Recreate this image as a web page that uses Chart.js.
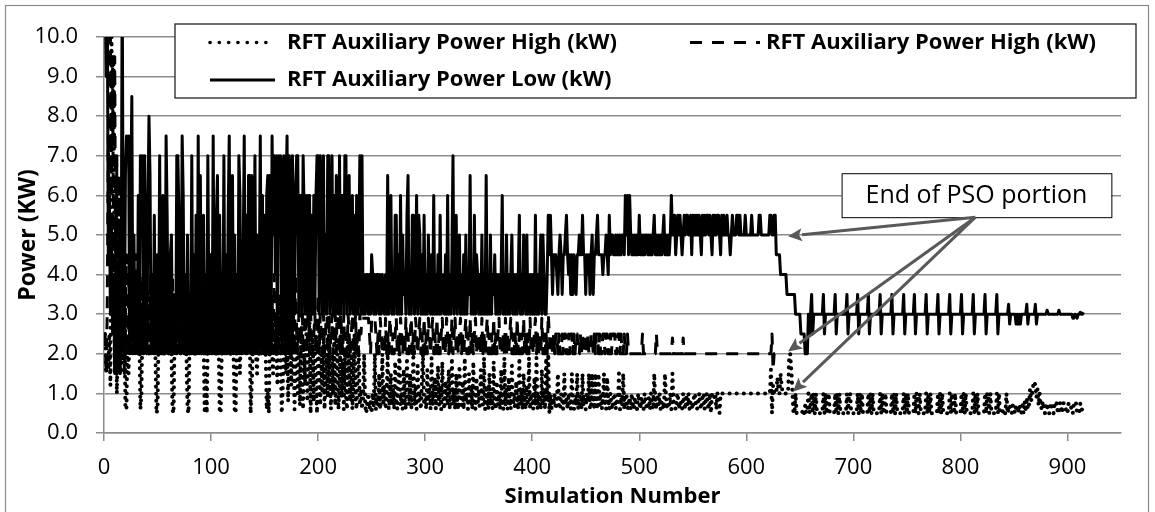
<!DOCTYPE html>
<html>
<head>
<meta charset="utf-8">
<script src="https://cdn.jsdelivr.net/npm/chart.js@4.4.1/dist/chart.umd.min.js"></script>
<style>
  html, body { margin: 0; padding: 0; background: #fff; }
  #wrap { position: relative; width: 1155px; height: 512px; }
</style>
</head>
<body>
<div id="wrap"><canvas id="powerChart" width="1155" height="512"></canvas></div>
<script>
const FONT = "'Open Sans', sans-serif";

// RFT auxiliary power, one value per simulation (kW)
const lowPower = [
  11.5, 9, 11.5, 4.5, 6, 3, 5.5, 2.5, 4, 1.5, 3.5, 1.5, 2, 5, 1.5,
  3, 11.5, 4, 2, 6.5, 7.5, 7, 7.5, 2, 6, 8.5, 2, 5, 2, 4,
  2, 6, 2, 7, 5, 7, 2, 7, 4.5, 2, 5.5, 8, 6.5, 2, 4,
  2, 5.5, 2, 3, 4.5, 2, 7, 2, 2, 6, 4, 2, 7.5, 5.5, 2,
  2, 4.5, 5, 2, 2, 3.5, 2, 7, 7, 5.5, 2, 2, 7.5, 6, 2,
  4, 2, 5, 2, 2, 2, 7, 2, 4.5, 2, 5.5, 2, 7.5, 2, 6.5,
  2, 4, 5.5, 2, 2, 2, 7, 3, 2, 4.5, 2, 7.5, 2, 2, 5.5,
  6.5, 2, 5.5, 3, 2, 2, 7, 2, 4.5, 2, 5.5, 7.5, 2, 2, 6.5,
  2, 5, 2, 4, 2, 7, 6, 2, 2, 4.5, 7.5, 2, 5.5, 2, 6.5,
  6.5, 2, 6.5, 2, 4, 7, 2, 5, 2, 3.5, 7.5, 2, 6, 2, 5.5,
  2, 6, 6.5, 2, 6.5, 2, 7.5, 5, 7, 4, 7, 2, 7, 6, 7,
  2, 6.5, 7, 2, 6, 7.5, 2, 7, 6.5, 2, 7, 5.5, 3, 6, 7,
  7, 3, 6, 6, 3, 7, 5.5, 3, 6, 3, 6, 6, 3, 5.5, 3,
  6, 3, 6, 7, 7, 3, 7, 6, 3, 7, 3, 5, 3, 7, 7,
  3, 4.5, 7, 3, 6, 3, 6.5, 5, 3, 7, 3, 6, 6, 3, 7,
  7, 3, 5, 6.5, 3, 4, 6, 3, 5.5, 3, 6, 3, 4.5, 7, 3,
  7, 3, 4, 3, 4, 4, 3, 4, 3, 4.5, 4, 3, 4, 3, 4,
  4, 3, 4, 3, 4, 3.5, 3, 4, 3, 6.5, 3, 4, 6, 3, 4,
  3, 5.5, 5.5, 3, 4.5, 3, 6, 3, 5, 3.5, 4, 3, 5.5, 6.5, 3,
  4, 3, 5.5, 5.5, 3, 4, 6, 3, 5.5, 5, 3, 4.5, 3, 5.5, 3,
  4, 3, 5, 3.5, 3, 4.5, 3, 6, 3, 4, 3, 4.5, 3, 5.5, 3,
  4, 3.5, 3, 4.5, 3, 6, 3, 4, 3, 4.5, 7, 3, 4, 5.5, 3,
  4.5, 5, 3, 4, 3, 4.5, 3, 5, 3, 4, 3.5, 6.5, 3, 4, 3,
  5.5, 3, 4.5, 4, 3, 4, 3, 5, 3, 4, 3, 6.5, 3, 4, 3,
  5, 3, 4, 3.5, 4.5, 3, 4, 3, 4, 3, 4, 6, 3, 4, 3,
  5, 3, 4, 3, 4, 5, 3, 4, 3, 4, 3, 4, 5.5, 3, 4,
  3, 5, 4, 3, 5, 3, 4, 3, 4, 3, 4, 3, 5.5, 3, 4,
  3, 4, 5, 3, 5, 4, 3, 3, 4, 5.5, 4.5, 5.5, 4.5, 3.5, 4.5,
  4.5, 4.5, 4, 3.5, 4.5, 5, 4.5, 3.5, 4.5, 4.5, 5, 5.5, 4.5, 4, 4.5,
  3.5, 4.5, 3.5, 4.5, 4, 3.5, 4.5, 4.5, 5, 4.5, 4.5, 5.5, 4.5, 4.5, 3.5,
  4.5, 4, 4.5, 3.5, 4.5, 5, 3.5, 4.5, 4.5, 5, 5.5, 4.5, 4.5, 4.5, 4.5,
  4, 4.5, 4.5, 5, 4.5, 4, 5.5, 4.5, 5, 5, 4.5, 4.5, 5, 4.5, 5,
  4.5, 5, 4.5, 5, 5, 4.5, 6, 5, 6, 4.5, 6, 5, 4.5, 5, 4.5,
  5, 4.5, 5, 4.5, 5.5, 4.5, 5, 4.5, 5, 4.5, 5, 5, 4.5, 5, 4.5,
  5, 4.5, 5, 5.5, 4.5, 5, 4.5, 5, 4.5, 5, 4.5, 5, 5.5, 4.5, 5,
  4.5, 5, 4.5, 5, 6, 5, 5, 5.5, 4.5, 5, 5.5, 5, 5.5, 5, 4.5,
  5, 5.5, 5, 5.5, 5.5, 5, 5, 5.5, 4.5, 5.5, 5, 5.5, 5, 5.5, 5,
  5.5, 5, 4.5, 5.5, 5, 5.5, 5, 5.5, 5.5, 5, 5.5, 5, 4.5, 5.5, 5,
  5.5, 5, 5.5, 5.5, 5, 4.5, 5.5, 5, 5.5, 5, 5, 5.5, 5, 5, 4.5,
  5, 5.5, 5, 5, 5, 5.5, 5.5, 5, 5.5, 5, 5, 5, 5, 5.5, 5,
  5, 5, 5, 5, 5.5, 5, 5, 5, 5, 5, 5, 5.5, 5.5, 5, 5,
  5, 5, 5, 5, 5, 5, 5.5, 5.5, 5, 5, 5.5, 5.5, 4.5, 4.5, 4.5,
  4.5, 4, 4, 4, 4, 4, 4, 3.5, 3.5, 3.5, 3.5, 3.5, 3.5, 3.5, 3.5,
  3, 3, 3, 3, 3, 2.5, 2.5, 2.5, 2.5, 2, 2, 2, 3, 2.5, 3,
  3.5, 2.5, 3, 3, 3, 3, 3, 3, 3, 3, 3, 3.5, 2.5, 3, 3,
  3, 3, 3, 3, 3, 3, 3, 3.5, 2.5, 3, 3, 3, 3, 3, 3,
  3, 3, 3, 3.5, 2.5, 3, 3, 3, 3, 3, 3, 3, 3, 3.5, 2.5,
  3, 3, 3, 3, 3, 3, 3, 3, 3.5, 2.5, 3, 3, 3, 3, 3,
  3, 3, 3, 3, 3.5, 2.5, 3, 3, 3, 3, 3, 3, 3, 3, 3,
  3.5, 2.5, 3, 3, 3, 3, 3, 3, 3, 3, 3, 3.5, 2.5, 3, 3,
  3, 3, 3, 3, 3, 3, 3.5, 2.5, 3, 3, 3, 3, 3, 3, 3,
  3, 3, 3.5, 2.5, 3, 3, 3, 3, 3, 3, 3, 3, 3, 3.5, 2.5,
  3, 3, 3, 3, 3, 3, 3, 3, 3, 3.5, 2.5, 3, 3, 3, 3,
  3, 3, 3, 3, 3, 3.5, 2.5, 3, 3, 3, 3, 3, 3, 3, 3,
  3, 3.5, 2.5, 3, 3, 3, 3, 3, 3, 3, 3, 3, 3.5, 2.5, 3,
  3, 3, 3, 3, 3, 3, 3, 3, 3.5, 2.5, 3, 3, 3, 3, 3,
  3, 3, 3, 3, 3.25, 2.75, 3, 3, 3, 3, 3, 2.75, 3, 2.75, 3,
  2.75, 3, 3, 3, 3, 3, 3.25, 2.75, 3, 3, 3, 3, 3, 3, 3.25,
  2.75, 3, 3, 3, 3, 3, 3, 3, 3, 3, 3.1, 3, 3, 3, 3,
  3, 3, 3, 3, 3, 3, 3.1, 3, 3, 3, 3, 3, 3, 3, 3,
  3, 3, 3, 3, 2.9, 2.9, 3, 2.95, 2.9, 3, 3, 3.05, 3, 3, 3.05
];

const highPowerDashed = [
  2.5, 1.5, 3, 7.5, 5, 10, 6, 9.5, 4, 9.5, 3, 7, 2, 6.5, 1.5,
  4, 2, 3.5, 1.5, 2.5, 4.5, 2, 3.5, 5, 2, 4, 2.5, 3, 2, 4.5,
  2, 3, 2.5, 4, 2, 3.5, 2, 4.5, 3, 2, 3.5, 2, 4, 2.5, 2,
  3, 2, 4.5, 2.5, 2, 3.5, 2, 3, 4, 2, 2.5, 3.5, 2, 4, 2,
  2.5, 3.5, 2, 4, 2, 3, 2.5, 2, 4.5, 2, 3, 2, 3.5, 2.5, 2,
  4, 2, 3, 2.5, 2, 3.5, 2, 4.5, 2, 3, 2, 2.5, 4, 2, 3,
  2, 3.5, 2, 2.5, 4, 2, 3, 2, 4.5, 2.5, 2, 3.5, 2, 3, 2,
  4, 2, 2.5, 3.5, 2, 3, 2, 4, 2, 2.5, 3.5, 2, 4.5, 2, 3,
  2, 3, 2.5, 2, 4, 2, 3.5, 2, 3, 2.5, 2, 4, 2, 3.5, 2,
  3, 2, 4.5, 2, 2.5, 3.5, 2, 3, 2, 4, 2.5, 2, 3, 2, 3.5,
  2, 4, 2, 3, 2.5, 2, 3.5, 2, 4, 2, 3, 2.5, 2, 3.5, 2,
  3, 2, 2.5, 4, 2, 3, 2.5, 2, 3.5, 2, 2.5, 3, 2, 4, 2.5,
  2, 3, 2.5, 2, 3.5, 2, 2.5, 3, 2, 2.5, 3.5, 2, 3, 2.5, 2,
  2.5, 3, 2, 2.5, 3.5, 2, 3, 2.5, 2, 3, 2, 2.5, 3.5, 2, 3,
  2, 2.5, 3, 2, 2.5, 3, 2, 3.5, 2.5, 2, 3, 2.5, 2, 3, 2,
  2.5, 2, 3, 2.5, 2, 2.5, 3, 2, 2.5, 3, 2, 2.5, 2, 3, 2.5,
  2.9, 2.9, 2.9, 2.9, 2.9, 2.9, 2.9, 2.5, 2, 2.9, 2.9, 2.9, 2.9, 2.5, 2,
  2.5, 2, 2.9, 2.5, 2, 2.5, 2, 2.9, 2, 2.5, 2, 2.9, 2.5, 2, 2.5,
  2, 2.5, 2.9, 2, 2.5, 2, 2.9, 2.5, 2, 2.5, 2, 2.9, 2, 2.5, 2,
  2.5, 2.9, 2, 2.5, 2, 2.9, 2.5, 2, 2.5, 2.9, 2, 2.5, 2, 2.9, 2,
  2.5, 2, 2.9, 2.5, 2, 2.5, 2.9, 2, 2.5, 2, 2.9, 2, 2.5, 2, 2.5,
  2.9, 2, 2.5, 2, 2.9, 2.5, 2, 2.5, 2, 2.9, 2, 2.5, 2.9, 2, 2.5,
  2, 2.5, 2.9, 2, 2.5, 2, 2.5, 2.9, 2, 2.5, 2, 2.9, 2, 2.5, 2,
  2.5, 2.9, 2, 2.5, 2, 2.5, 2, 2.9, 2, 2.5, 2, 2.5, 2.9, 2, 2.5,
  2, 2.5, 2, 2.9, 2, 2.5, 2, 2.5, 2.9, 2, 2.5, 2, 2.5, 2, 2.9,
  2, 2.5, 2, 2.5, 2.9, 2, 2.5, 2, 2.5, 2, 2.9, 2, 2.5, 2, 2.5,
  2, 2.9, 2, 2.5, 2, 2.5, 2, 2.9, 2, 2.5, 2, 2.5, 2.9, 2, 2.5,
  2, 2.5, 2, 2.9, 2, 2.5, 2, 2.5, 2, 3, 2.5, 2, 2.5, 2, 2.5,
  2, 2.5, 2.5, 2, 2.5, 2, 2, 2.5, 2, 2.5, 2.5, 2, 2, 2.5, 2,
  2.5, 2.5, 2, 2.5, 2, 2.5, 2.5, 2, 2, 2.5, 2, 2.5, 2, 2.5, 2.5,
  2, 2.5, 2, 2, 2.5, 2.5, 2, 2.5, 2, 2.5, 2.5, 2, 2.5, 2, 2,
  2.5, 2.5, 2, 2.5, 2.5, 2, 2, 2.5, 2, 2.5, 2.5, 2.5, 2, 2, 2.5,
  2.5, 2, 2.5, 2, 2, 2.5, 2, 2, 2.5, 2, 2, 2, 2, 2, 2,
  2, 2, 2, 2, 2, 2, 2, 2.5, 2, 2, 2, 2, 2, 2, 2,
  2, 2, 2, 2, 2, 2.5, 2, 2, 2, 2, 2, 2, 2, 2, 2,
  2, 2, 2, 2, 2, 2.4, 2, 2, 2, 2, 2, 2, 2, 2, 2,
  2.4, 2, 2, 2, 2, 2, 2, 2, 2, 2, 2, 2, 2, 2, 2,
  2, 2, 2, 2, 2, 2, 2, 2, 2, 2, 2, 2, 2, 2, 2,
  2, 2, 2, 2, 2, 2, 2, 2, 2, 2, 2, 2, 2, 2, 2,
  2, 2, 2, 2, 2, 2, 2, 2, 2, 2, 2, 2, 2, 2, 2,
  2, 2, 2, 2, 2, 2, 2, 2, 2, 2, 2, 2, 2, 2, 2,
  2, 2, 2, 2, 2, 2, 2, 2, 2.5, 1.6, 2, 2, 2
];

const highPowerDotted = [
  2.5, 1.5, 2, 1.6, 2.5, 1.2, 10, 7.5, 9.5, 1.5, 3.5, 1, 2.5, 1.5, 3,
  1.5, 3, 1.8, 3, 0.6, 0.6, 2.5, 1.5, 3, 2, 3.5, 2.5, 2, 3, 2.5,
  3, 2, 2.5, 0.6, 1, 3, 2.5, 2, 3.5, 2.5, 3, 2, 2.5, 3, 2,
  3, 2.5, 2, 0.5, 0.6, 2.5, 3, 2, 3.5, 2.5, 2, 3, 2.5, 2, 3,
  2.5, 3, 2, 0.6, 0.5, 2.5, 3, 2, 2.5, 3.5, 2, 2.5, 3, 2, 2.5,
  3, 2, 0.6, 0.5, 2.5, 3, 2, 2.5, 3, 2, 3.5, 2.5, 2, 3, 2.5,
  2, 3, 2.5, 0.5, 1.5, 0.5, 2.5, 3, 2, 2.5, 3, 2, 3.5, 2.5, 2,
  3, 2.5, 0.6, 0.5, 2, 3, 2.5, 2, 3.5, 2, 2.5, 3, 2, 2.5, 3,
  2, 0.6, 0.5, 2.5, 3, 2, 1.5, 3, 2.5, 2, 3.5, 2.5, 2, 3, 2.5,
  3, 0.5, 1.2, 2, 3, 2.5, 2, 1.5, 3, 2, 2.5, 3.5, 2, 2.5, 3,
  2, 0.6, 1, 0.5, 2.5, 3, 2, 1.5, 2.5, 3, 2, 1.2, 2.5, 3, 2,
  0.5, 1.2, 2, 3, 1.5, 2.5, 0.8, 2, 3, 1.2, 2.5, 2, 0.6, 1.8, 2.5,
  1, 2, 0.7, 2.5, 1.5, 0.6, 2, 1.2, 2.5, 0.8, 1.8, 3, 0.5, 1.5, 2.5,
  0.8, 2, 1.2, 0.5, 2.5, 1.5, 0.7, 2, 1, 2.5, 0.6, 1.5, 2, 0.9, 2.5,
  1.3, 0.6, 2, 1, 2.5, 0.7, 1.6, 2, 0.6, 1.2, 2.5, 0.9, 1.8, 0.6, 2,
  1, 0.6, 2.5, 1.4, 0.8, 2, 0.6, 1.2, 2.5, 0.9, 0.6, 1.6, 2, 0.7, 1.1,
  0.6, 0.9, 2, 0.7, 0.5, 0.8, 1, 0.6, 0.8, 0.5, 1, 0.7, 2, 0.6, 0.9,
  0.7, 1.5, 0.6, 0.9, 2, 0.7, 1.2, 0.6, 1, 2, 0.6, 0.8, 1.5, 0.7, 1.1,
  0.6, 1.8, 0.8, 0.6, 1.4, 2, 0.7, 1, 0.6, 1.6, 0.8, 0.6, 1.9, 1, 0.7,
  1.5, 0.6, 0.9, 2, 0.7, 1.2, 0.6, 1.7, 0.8, 1, 0.6, 1.4, 2, 0.7, 0.9,
  0.6, 1.6, 0.8, 1.1, 0.6, 1.9, 0.7, 1, 1.4, 0.6, 0.9, 1.7, 0.7, 1.2, 0.6,
  1.8, 0.8, 0.6, 1.3, 1, 0.7, 1.6, 0.6, 0.9, 1.9, 0.7, 1.1, 0.6, 1.5, 0.8,
  0.6, 1.7, 0.9, 0.7, 1.3, 0.6, 1.9, 0.8, 1, 0.6, 1.5, 0.7, 1.2, 0.6, 1.8,
  0.8, 0.6, 1.4, 0.7, 1.1, 0.6, 1.6, 0.9, 0.7, 1.9, 0.6, 1.2, 0.8, 0.6, 1.5,
  0.7, 1, 0.6, 1.8, 0.8, 0.6, 1.3, 0.7, 1, 0.6, 1.6, 0.8, 0.6, 1.9, 0.7,
  1.1, 0.6, 1.4, 0.8, 0.6, 1.7, 0.7, 1, 0.6, 1.3, 0.8, 0.6, 1.9, 0.7, 1.1,
  0.6, 1.5, 0.8, 0.6, 1.2, 0.7, 1.9, 0.6, 1, 0.8, 0.6, 1.4, 0.7, 1.9, 0.6,
  1, 0.8, 0.6, 1.6, 0.7, 1.1, 0.6, 1.9, 0.8, 2, 0.5, 1, 0.6, 0.9, 0.7,
  1, 0.6, 0.8, 1.5, 0.7, 0.6, 1, 0.8, 0.6, 1.5, 0.7, 0.9, 0.6, 1, 0.7,
  0.6, 1.5, 0.8, 0.6, 0.9, 0.7, 1.5, 0.6, 0.8, 1, 0.6, 1.5, 0.7, 0.9, 0.6,
  1, 0.8, 1.5, 0.6, 0.7, 1.5, 0.9, 0.6, 1.5, 0.8, 0.6, 1.5, 0.7, 1, 0.6,
  0.8, 1.5, 0.7, 0.6, 1.4, 0.9, 0.6, 1, 0.7, 0.6, 0.9, 1, 0.6, 0.8, 0.7,
  1.5, 0.6, 0.9, 0.7, 1.5, 0.6, 0.8, 1, 0.6, 0.7, 0.9, 0.6, 1, 0.7, 0.6,
  0.9, 0.7, 0.6, 1, 0.8, 0.6, 0.9, 0.7, 0.6, 1, 0.8, 0.6, 0.7, 0.9, 0.6,
  1, 0.7, 0.6, 1.5, 0.8, 0.6, 0.9, 0.7, 1, 0.6, 0.8, 0.7, 0.6, 1.5, 0.9,
  0.6, 0.8, 0.7, 1, 0.6, 1.5, 0.8, 0.7, 0.6, 0.9, 1, 0.6, 0.8, 0.7, 0.6,
  1, 0.8, 0.6, 0.9, 0.7, 1, 0.6, 0.8, 0.7, 0.6, 0.9, 1, 0.7, 0.6, 0.8,
  1, 0.7, 0.6, 0.9, 1, 0.6, 0.8, 1, 0.7, 0.6, 1, 0.5, 1, 1, 0.9,
  1, 0.6, 1, 1, 0.5, 1, 1, 1, 1, 1, 1, 1, 1, 1, 1,
  1, 1, 1, 1, 1, 1, 1, 1, 1, 1, 1, 1, 1, 1, 1,
  1, 1, 1, 1, 1, 1, 1, 1, 1, 1, 1, 1, 1, 1, 1,
  1, 1, 1, 1, 1, 1, 1, 1.6, 0.5, 1.2, 1, 1, 1, 1.4, 1.1,
  1, 1.5, 1.2, 1, 1, 1, 1, 1, 1, 1.9, 2, 1.6, 1.1, 0.5, 0.5,
  1, 0.5, 0.5, 0.5, 0.5, 0.5, 0.5, 0.6, 0.5, 0.7, 0.5, 0.6, 1, 0.5, 0.7,
  // sims 661-840: short bursts between 0.5 and 1.0, one per low-series spike
  1, 0.5, 1, 0.5, 1, 0.5, 0.5, 0.5, 0.5, 0.5, 0.5,
  1, 0.5, 1, 0.5, 0.5, 1, 0.5, 0.5, 0.5, 0.5, 0.5,
  1, 0.5, 1, 0.5, 1, 0.5, 0.5, 0.5, 0.5, 0.5, 0.5,
  1, 0.5, 1, 1, 0.5, 0.5, 0.5, 0.5, 0.5, 0.5,
  1, 0.5, 1, 0.5, 1, 0.5, 0.5, 0.5, 0.5, 0.5,
  1, 0.5, 1, 0.5, 1, 0.5, 0.5, 0.5, 0.5, 0.5, 0.5,
  1, 0.5, 1, 0.5, 0.5, 1, 0.5, 0.5, 0.5, 0.5, 0.5,
  1, 0.5, 1, 0.5, 1, 0.5, 0.5, 0.5, 0.5, 0.5, 0.5,
  1, 0.5, 1, 0.5, 1, 0.5, 0.5, 0.5, 0.5, 0.5,
  1, 0.5, 1, 1, 0.5, 1, 0.5, 0.5, 0.5, 0.5, 0.5,
  1, 0.5, 1, 0.5, 1, 0.5, 0.5, 0.5, 0.5, 0.5, 0.5,
  1, 0.5, 1, 0.5, 1, 0.5, 0.5, 0.5, 0.5, 0.5, 0.5,
  1, 0.5, 1, 0.5, 0.5, 1, 0.5, 0.5, 0.5, 0.5, 0.5,
  1, 0.5, 1, 0.5, 1, 0.5, 0.5, 0.5, 0.5, 0.5, 0.5,
  1, 0.5, 1, 0.5, 1, 0.5, 0.5, 0.5, 0.5, 0.5, 0.5,
  1, 0.5, 1, 1, 0.5, 1, 0.5, 0.5, 0.5, 0.5, 0.5,
  1, 0.5, 1, 0.5, 0.5, 0.5, 0.6,
  0.5, 0.5, 1, 0.5, 0.6, 0.7, 0.6, 0.5, 0.7, 0.6, 0.5, 0.7, 0.7, 0.5, 0.7,
  0.6, 0.5, 0.7, 0.5, 0.8, 0.6, 0.9, 0.6, 0.7, 1.1, 0.8, 1, 1.2, 1.3, 1.2,
  0.9, 1.1, 0.7, 1, 0.7, 0.6, 0.8, 0.7, 0.5, 0.75, 0.7, 0.5, 0.5, 0.75, 0.75,
  0.6, 0.5, 0.75, 0.7, 0.75, 0.5, 0.5, 0.75, 0.75, 0.5, 0.75, 0.75, 0.7, 0.5, 0.5,
  0.75, 0.75, 0.75, 0.5, 0.5, 0.75, 0.7, 0.75, 0.5, 0.5, 0.5, 0.75, 0.7, 0.5, 0.5
];

const seriesLabels = [
  'RFT Auxiliary Power High (kW)',
  'RFT Auxiliary Power High (kW)',
  'RFT Auxiliary Power Low (kW)'
];

// callout in data units: box corners, arrow start, arrow tips
const calloutText = 'End of PSO portion';
const calloutBox = { x0: 689, x1: 941, y0: 5.45, y1: 6.56 };
const arrowFrom = { x: 814, y: 5.45 };
const arrowTips = [
  { x: 639, y: 4.97 },
  { x: 639, y: 2.06 },
  { x: 643.5, y: 1.04 }
];

const GRID = '#8c8c8c';

// simulation number on x
const toPoints = arr => arr.map((v, i) => ({ x: i + 1, y: v }));

function drawArrow(ctx, x0, y0, x1, y1) {
  const ang = Math.atan2(y1 - y0, x1 - x0);
  const len = 14, half = 6.5;
  const bx = x1 - len * Math.cos(ang), by = y1 - len * Math.sin(ang);
  ctx.beginPath();
  ctx.moveTo(x0, y0);
  ctx.lineTo(bx, by);
  ctx.stroke();
  ctx.beginPath();
  ctx.moveTo(x1, y1);
  ctx.lineTo(bx + half * Math.sin(ang), by - half * Math.cos(ang));
  ctx.lineTo(bx + 3 * Math.cos(ang), by + 3 * Math.sin(ang));
  ctx.lineTo(bx - half * Math.sin(ang), by + half * Math.cos(ang));
  ctx.closePath();
  ctx.fill();
}

const extras = {
  id: 'extras',
  beforeDraw(chart) {
    const ctx = chart.ctx;
    ctx.save();
    ctx.strokeStyle = '#8a8a8a';
    ctx.lineWidth = 1.2;
    ctx.strokeRect(5.5, 5.5, 1143, 530);
    ctx.restore();
  },
  afterDraw(chart) {
    const { ctx, scales: { x, y } } = chart;
    ctx.save();

    // callout box + arrows
    const bx0 = x.getPixelForValue(calloutBox.x0), bx1 = x.getPixelForValue(calloutBox.x1);
    const by0 = y.getPixelForValue(calloutBox.y1), by1 = y.getPixelForValue(calloutBox.y0);
    ctx.fillStyle = '#fff';
    ctx.fillRect(bx0, by0, bx1 - bx0, by1 - by0);
    ctx.strokeStyle = '#000';
    ctx.lineWidth = 1;
    ctx.strokeRect(bx0 + 0.5, by0 + 0.5, bx1 - bx0, by1 - by0);
    ctx.fillStyle = '#000';
    ctx.font = '25px ' + FONT;
    ctx.textAlign = 'center';
    ctx.textBaseline = 'middle';
    ctx.fillText(calloutText, (bx0 + bx1) / 2, (by0 + by1) / 2 + 1);

    ctx.strokeStyle = '#595959';
    ctx.fillStyle = '#595959';
    ctx.lineWidth = 3;
    const fx = x.getPixelForValue(arrowFrom.x), fy = y.getPixelForValue(arrowFrom.y);
    arrowTips.forEach(t => drawArrow(ctx, fx, fy, x.getPixelForValue(t.x), y.getPixelForValue(t.y)));

    // legend
    const lx0 = 175, ly0 = 24, lx1 = 1136, ly1 = 98;
    ctx.fillStyle = '#fff';
    ctx.fillRect(lx0, ly0, lx1 - lx0, ly1 - ly0);
    ctx.strokeStyle = '#222';
    ctx.lineWidth = 1.3;
    ctx.strokeRect(lx0, ly0, lx1 - lx0, ly1 - ly0);

    const row1 = 42.5, row2 = 80;
    ctx.strokeStyle = '#000';
    ctx.lineWidth = 3.6;
    ctx.lineCap = 'round';
    ctx.setLineDash([0.1, 9.2]);
    ctx.beginPath(); ctx.moveTo(210, row1); ctx.lineTo(274, row1); ctx.stroke();
    ctx.lineCap = 'butt';
    ctx.lineWidth = 3;
    ctx.setLineDash([12, 10]);
    ctx.beginPath(); ctx.moveTo(690, row1); ctx.lineTo(760, row1); ctx.stroke();
    ctx.setLineDash([]);
    ctx.beginPath(); ctx.moveTo(210, row2); ctx.lineTo(275, row2); ctx.stroke();

    ctx.fillStyle = '#000';
    ctx.font = 'bold 22px ' + FONT;
    ctx.textAlign = 'left';
    ctx.textBaseline = 'middle';
    ctx.fillText(seriesLabels[0], 287, row1);
    ctx.fillText(seriesLabels[1], 766, row1);
    ctx.fillText(seriesLabels[2], 287, row2);
    ctx.restore();
  }
};

const ctx = document.getElementById('powerChart').getContext('2d');
new Chart(ctx, {
  type: 'line',
  data: {
    datasets: [
      {
        label: seriesLabels[2],
        data: toPoints(lowPower),
        borderColor: '#000',
        borderWidth: 3,
        borderJoinStyle: 'round',
        pointRadius: 0,
        tension: 0,
        clip: 0,
        order: 0
      },
      {
        label: seriesLabels[0],
        data: toPoints(highPowerDotted),
        borderColor: '#000',
        borderWidth: 4,
        borderDash: [0.1, 7],
        borderCapStyle: 'round',
        borderJoinStyle: 'round',
        pointRadius: 0,
        tension: 0,
        clip: 0,
        order: 1
      },
      {
        label: seriesLabels[1],
        data: toPoints(highPowerDashed),
        borderColor: '#000',
        borderWidth: 3,
        borderDash: [12, 9],
        borderJoinStyle: 'round',
        pointRadius: 0,
        tension: 0,
        clip: 0,
        order: 2
      }
    ]
  },
  options: {
    responsive: false,
    animation: false,
    devicePixelRatio: 1,
    layout: { padding: { left: 0, right: 34, top: 37, bottom: 0 } },
    plugins: {
      legend: { display: false },
      tooltip: { enabled: false }
    },
    scales: {
      x: {
        type: 'linear',
        min: 0,
        max: 950,
        afterFit: s => { s.height = 79; },
        ticks: {
          stepSize: 100,
          includeBounds: false,
          padding: 14,
          color: '#000',
          font: { family: FONT, size: 22 }
        },
        grid: { drawOnChartArea: false, tickLength: 8, color: GRID, lineWidth: 1.5 },
        border: { color: GRID, width: 1.5 },
        title: {
          display: true,
          text: 'Simulation Number',
          color: '#000',
          font: { family: FONT, size: 22, weight: 'bold' },
          padding: { top: 0, bottom: 2 }
        }
      },
      y: {
        min: 0,
        max: 10,
        afterFit: s => { s.width = 104; },
        ticks: {
          stepSize: 1,
          padding: 18,
          color: '#000',
          font: { family: FONT, size: 22 },
          callback: v => v.toFixed(1)
        },
        grid: { color: GRID, lineWidth: 1.5, tickLength: 8 },
        border: { color: GRID, width: 1.5 },
        title: {
          display: true,
          text: 'Power (KW)',
          color: '#000',
          font: { family: FONT, size: 23, weight: 'bold' },
          padding: { top: 15, bottom: 0 }
        }
      }
    }
  },
  plugins: [extras]
});
</script>
</body>
</html>
